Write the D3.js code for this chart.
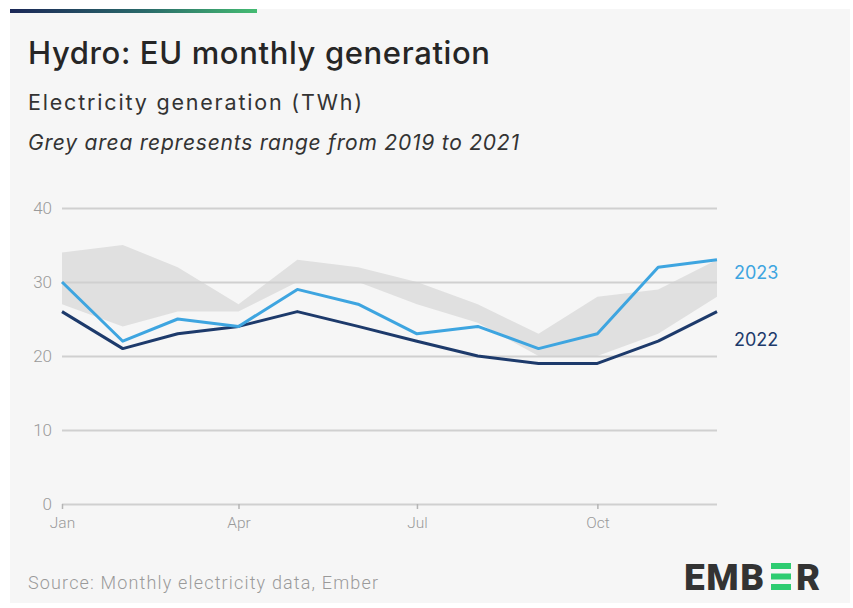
<!DOCTYPE html>
<html>
<head>
<meta charset="utf-8">
<script src="https://cdn.jsdelivr.net/npm/d3@7"></script>
<style>
  html, body { margin: 0; padding: 0; background: #ffffff; }
  svg { display: block; }
</style>
</head>
<body>
<svg id="chart" width="853" height="608"></svg>
<script>
// ---- Data ----
const months = ["Jan","Feb","Mar","Apr","May","Jun","Jul","Aug","Sep","Oct","Nov","Dec"];
const gen2023 = [30, 22, 25, 24, 29, 27, 23, 24, 21, 23, 32, 33];
const gen2022 = [26, 21, 23, 24, 26, 24, 22, 20, 19, 19, 22, 26];
const rangeMin = [27, 24, 26, 26, 30, 30, 27, 24.5, 20, 20, 23, 28];
const rangeMax = [34, 35, 32, 27, 33, 32, 30, 27, 23, 28, 29, 33];
const yTicks = [0, 10, 20, 30, 40];
const seriesLabels = ["2023", "2022"];

const title = "Hydro: EU monthly generation";
const subtitle = "Electricity generation (TWh)";
const note = "Grey area represents range from 2019 to 2021";
const source = "Source: Monthly electricity data, Ember";

// ---- Setup ----
const svg = d3.select("#chart");
const dates = months.map((m, i) => new Date(Date.UTC(2023, i, 1)));
const headFont = "Inter, 'Noto Sans', sans-serif";
const lightFont = "Roboto, 'Liberation Sans', sans-serif";

// card
svg.append("rect").attr("x", 10).attr("y", 9).attr("width", 840).attr("height", 594).attr("fill", "#f6f6f6");
const grad = svg.append("defs").append("linearGradient").attr("id", "topgrad");
grad.append("stop").attr("offset", "0%").attr("stop-color", "#1b2757");
grad.append("stop").attr("offset", "55%").attr("stop-color", "#2a6a6a");
grad.append("stop").attr("offset", "100%").attr("stop-color", "#44bb72");
svg.append("rect").attr("x", 10).attr("y", 9).attr("width", 247).attr("height", 4).attr("fill", "url(#topgrad)");

// titles
svg.append("text").attr("x", 28).attr("y", 64).text(title)
  .attr("font-family", headFont).attr("font-size", 31).attr("font-weight", 500).attr("fill", "#262626")
  .attr("textLength", 462).attr("lengthAdjust", "spacing");
svg.append("text").attr("x", 28).attr("y", 110).text(subtitle)
  .attr("font-family", headFont).attr("font-size", 21.5).attr("fill", "#333")
  .attr("textLength", 334).attr("lengthAdjust", "spacing");
svg.append("text").attr("x", 28).attr("y", 150).text(note)
  .attr("font-family", headFont).attr("font-size", 21).attr("font-style", "italic").attr("fill", "#333")
  .attr("textLength", 491).attr("lengthAdjust", "spacing");

// scales
const x = d3.scaleUtc().domain([dates[0], dates[11]]).range([62, 717]);
const y = d3.scaleLinear().domain([0, 40]).range([504, 208]);

// range area
const area = d3.area()
  .x((d, i) => x(dates[i]))
  .y0((d, i) => y(rangeMin[i]))
  .y1((d, i) => y(rangeMax[i]));
svg.append("path").datum(months).attr("d", area).attr("fill", "#e0e0e0");

// gridlines + y labels
const yAxis = d3.axisLeft(y).tickValues(yTicks).tickSize(-(717 - 62)).tickPadding(10);
const gy = svg.append("g").attr("transform", "translate(62,0)").call(yAxis);
gy.select(".domain").remove();
gy.selectAll(".tick line").attr("stroke", "#d0d0d0").attr("stroke-width", 2);
gy.selectAll(".tick text").attr("font-family", lightFont)
  .attr("font-size", 17).attr("font-weight", 300).attr("fill", "#9a9a9a").attr("x", -10);

// x axis
const xAxis = d3.axisBottom(x).ticks(d3.utcMonth.every(3)).tickFormat(d3.utcFormat("%b")).tickSize(5).tickPadding(8);
const gx = svg.append("g").attr("transform", "translate(0,504)").call(xAxis);
gx.select(".domain").remove();
gx.selectAll(".tick line").attr("stroke", "#b5b5b5").attr("stroke-width", 1.5);
gx.selectAll(".tick text").attr("font-family", lightFont)
  .attr("font-size", 15.5).attr("font-weight", 300).attr("fill", "#9a9a9a");

// lines
const line = d3.line().x((d, i) => x(dates[i])).y(d => y(d));
svg.append("path").datum(gen2022).attr("d", line).attr("fill", "none")
  .attr("stroke", "#1d3a6b").attr("stroke-width", 3).attr("stroke-linejoin", "round");
svg.append("path").datum(gen2023).attr("d", line).attr("fill", "none")
  .attr("stroke", "#3ea5e0").attr("stroke-width", 3).attr("stroke-linejoin", "round");

// series labels
svg.append("text").attr("x", 734).attr("y", 279).text(seriesLabels[0])
  .attr("font-family", headFont).attr("font-size", 18).attr("fill", "#3ea5e0");
svg.append("text").attr("x", 734).attr("y", 346).text(seriesLabels[1])
  .attr("font-family", headFont).attr("font-size", 18).attr("fill", "#1d3a6b");

// source
svg.append("text").attr("x", 28).attr("y", 589).text(source)
  .attr("font-family", lightFont).attr("font-size", 18).attr("font-weight", 300).attr("fill", "#9a9a9a")
  .attr("textLength", 350).attr("lengthAdjust", "spacing");

// logo
const logo = svg.append("g");
logo.append("text").attr("x", 684).attr("y", 590).text("EMB")
  .attr("font-family", "Roboto, 'DejaVu Sans', sans-serif").attr("font-size", 37).attr("font-weight", 900)
  .attr("fill", "#333").attr("letter-spacing", 1.5);
[563, 573.5, 584].forEach(yy => logo.append("rect").attr("x", 771).attr("y", yy).attr("width", 20).attr("height", 6).attr("fill", "#2ecc71"));
logo.append("text").attr("x", 796).attr("y", 590).text("R")
  .attr("font-family", "Roboto, 'DejaVu Sans', sans-serif").attr("font-size", 37).attr("font-weight", 900).attr("fill", "#333");
</script>
</body>
</html>
